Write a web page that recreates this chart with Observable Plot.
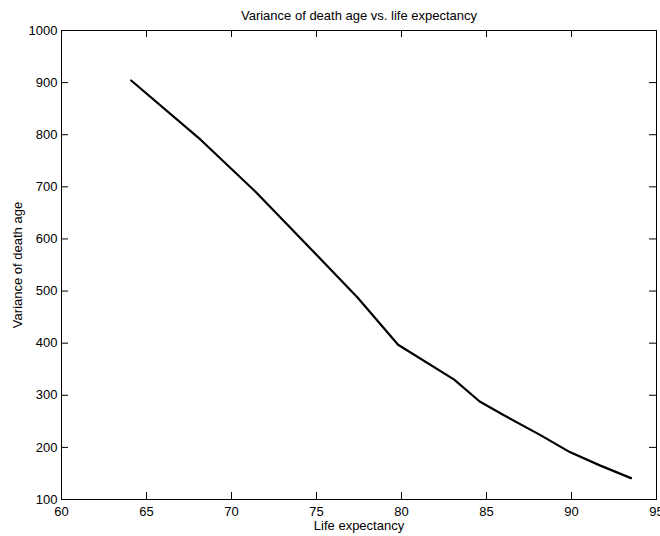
<!DOCTYPE html>
<html><head><meta charset="utf-8">
<script src="https://cdn.jsdelivr.net/npm/d3@7"></script>
<script src="https://cdn.jsdelivr.net/npm/@observablehq/plot@0.6"></script>
<style>body{margin:0;background:#fff}</style>
</head><body><div id="chart"></div>
<script>
const lifeExpectancy = [64.1, 68.2, 71.4, 74.4, 77.4, 79.8, 83.1, 84.6, 86.0, 88.2, 89.9, 91.7, 93.5];
const deathAgeVariance = [904, 790, 691, 590, 488, 397, 330, 288, 262, 223, 191, 165, 141];
const xTicks = [60, 65, 70, 75, 80, 85, 90, 95];
const yTicks = [100, 200, 300, 400, 500, 600, 700, 800, 900, 1000];
const titleText = "Variance of death age vs. life expectancy";
const xLabelText = "Life expectancy";
const yLabelText = "Variance of death age";

const data = lifeExpectancy.map((x, i) => ({x, y: deathAgeVariance[i]}));
const W = 660, H = 536, mL = 61, mR = 4, mT = 30, mB = 37;
const fw = W - mL - mR, fh = H - mT - mB, tick = 7;

const chart = Plot.plot({
  width: W, height: H,
  marginLeft: mL, marginRight: mR, marginTop: mT, marginBottom: mB,
  style: {fontFamily: "'Liberation Sans', Arial, Helvetica, sans-serif", fontSize: "13px", color: "black", background: "white", overflow: "hidden"},
  x: {domain: [60, 95]},
  y: {domain: [100, 1000]},
  marks: [
    Plot.tickX(xTicks, {x: d => d, insetTop: fh - tick, stroke: "black"}),
    Plot.tickX(xTicks, {x: d => d, insetBottom: fh - tick, stroke: "black"}),
    Plot.tickY(yTicks, {y: d => d, insetRight: fw - tick, stroke: "black"}),
    Plot.tickY(yTicks, {y: d => d, insetLeft: fw - tick, stroke: "black"}),
    Plot.axisX(xTicks, {tickSize: 0, tickPadding: 7, label: null, tickFormat: d => String(d), fill: "black"}),
    Plot.axisY(yTicks, {tickSize: 0, tickPadding: 4, label: null, tickFormat: d => String(d), fill: "black"}),
    Plot.frame({stroke: "black"}),
    Plot.line(data, {x: "x", y: "y", stroke: "black", strokeWidth: 2.2}),
    Plot.text([titleText], {text: d => d, frameAnchor: "top", lineAnchor: "middle", textAnchor: "middle", dy: -14.7, fill: "black"}),
    Plot.text([xLabelText], {text: d => d, frameAnchor: "bottom", lineAnchor: "middle", textAnchor: "middle", dy: 26.5, fill: "black"}),
    Plot.text([yLabelText], {text: d => d, frameAnchor: "left", lineAnchor: "middle", textAnchor: "middle", rotate: -90, dx: -43.7, fill: "black"})
  ]
});
document.getElementById("chart").appendChild(chart);
</script>
</body></html>
